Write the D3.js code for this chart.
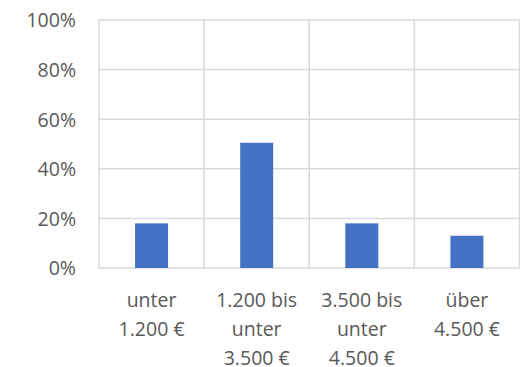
<!DOCTYPE html>
<html>
<head>
<meta charset="utf-8">
<script src="https://cdn.jsdelivr.net/npm/d3@7"></script>
<style>
  html, body { margin: 0; padding: 0; background: #fff; }
  svg { display: block; }
  text { font-family: "Open Sans", "Noto Sans", sans-serif; fill: #595959; }
</style>
</head>
<body>
<svg id="chart" width="520" height="367"></svg>
<script>
// Income brackets (net household income) and their share
const categories = [
  ["unter", "1.200 €"],
  ["1.200 bis", "unter", "3.500 €"],
  ["3.500 bis", "unter", "4.500 €"],
  ["über", "4.500 €"]
];
const shares = [18, 50.5, 18, 13];
const yTicks = [0, 20, 40, 60, 80, 100];

const svg = d3.select("#chart");
const plotLeft = 99, plotRight = 519.5, plotTop = 20, plotBottom = 268;
const fontSize = 19.5;

const x = d3.scaleBand()
  .domain(d3.range(categories.length))
  .range([plotLeft, plotRight])
  .paddingInner(0.686)
  .paddingOuter(0.343);

const y = d3.scaleLinear().domain([0, 100]).range([plotBottom, plotTop]);

const gridColor = "#d9d9d9";

// horizontal gridlines
svg.append("g")
  .selectAll("line")
  .data(yTicks)
  .join("line")
  .attr("x1", plotLeft).attr("x2", plotRight)
  .attr("y1", d => y(d)).attr("y2", d => y(d))
  .attr("stroke", gridColor)
  .attr("stroke-width", 1.5);

// vertical separators between categories
const step = x.step();
const bounds = d3.range(categories.length + 1).map(i => plotLeft + i * step);
svg.append("g")
  .selectAll("line")
  .data(bounds)
  .join("line")
  .attr("x1", d => d).attr("x2", d => d)
  .attr("y1", plotTop).attr("y2", plotBottom)
  .attr("stroke", gridColor)
  .attr("stroke-width", 1.5);

// bars
svg.append("g")
  .selectAll("rect")
  .data(shares)
  .join("rect")
  .attr("x", (d, i) => x(i))
  .attr("width", x.bandwidth())
  .attr("y", d => y(d))
  .attr("height", d => y(0) - y(d))
  .attr("fill", "#4472c4");

// y axis labels
const yAxis = d3.axisLeft(y)
  .tickValues(yTicks)
  .tickFormat(d => d + "%")
  .tickSize(0)
  .tickPadding(0);
const gy = svg.append("g")
  .attr("transform", `translate(76,0)`)
  .call(yAxis);
gy.select(".domain").remove();
gy.attr("font-family", null).attr("font-size", null);
gy.selectAll("text")
  .attr("font-size", fontSize)
  .attr("fill", null)
  .attr("dy", "0.35em");

// category labels, wrapped across lines
const lineHeight = 29.2;
const gx = svg.append("g");
categories.forEach((lines, i) => {
  const cx = x(i) + x.bandwidth() / 2;
  const t = gx.append("text")
    .attr("text-anchor", "middle")
    .attr("font-size", fontSize);
  lines.forEach((ln, j) => {
    t.append("tspan")
      .attr("x", cx)
      .attr("y", 306.5 + j * lineHeight)
      .text(ln);
  });
});
</script>
</body>
</html>
